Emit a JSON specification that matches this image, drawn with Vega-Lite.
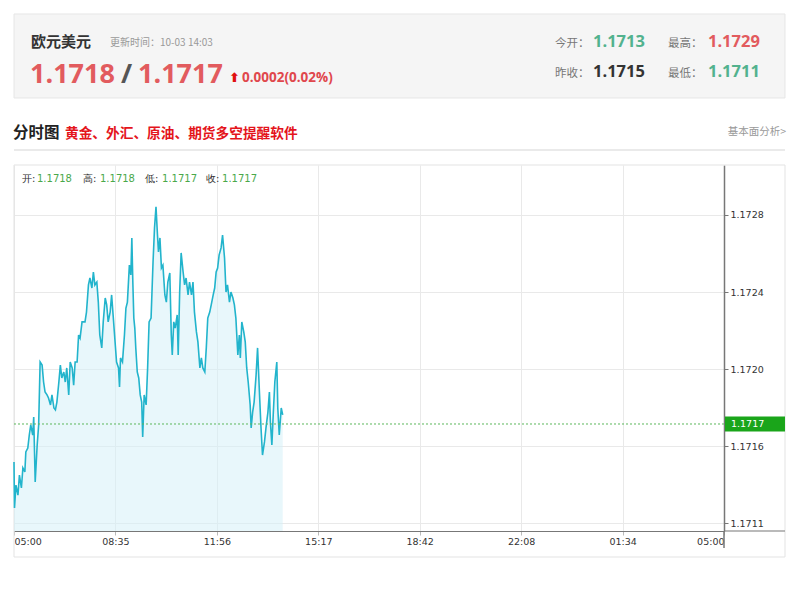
{
  "$schema": "https://vega.github.io/schema/vega-lite/v6.json",
  "autosize": {"type": "none"},
  "width": 710,
  "height": 366,
  "padding": {"left": 14, "top": 165, "right": 76, "bottom": 58},
  "background": "white",
  "config": {"view": {"stroke": null}, "axis": {"labelColor": "#333", "labelFont": "DejaVu Sans", "labelFontSize": 9.5}},
  "datasets": {
    "series": [
      {"t":0,"p":1.171518},{"t":1,"p":1.171279},{"t":4,"p":1.171398},{"t":8,"p":1.171346},{"t":11,"p":1.17145},{"t":15,"p":1.171383},{"t":18,"p":1.171487},{"t":22,"p":1.171466},{"t":24,"p":1.17157},{"t":28,"p":1.17159},{"t":31,"p":1.171658},{"t":34,"p":1.17171},{"t":38,"p":1.171658},{"t":40,"p":1.171751},{"t":43,"p":1.171414},{"t":47,"p":1.171606},{"t":50,"p":1.17171},{"t":53,"p":1.172037},{"t":57,"p":1.172021},{"t":60,"p":1.171933},{"t":63,"p":1.171881},{"t":67,"p":1.171866},{"t":70,"p":1.17185},{"t":74,"p":1.171814},{"t":77,"p":1.171866},{"t":81,"p":1.171798},{"t":84,"p":1.171788},{"t":87,"p":1.171829},{"t":91,"p":1.171933},{"t":94,"p":1.172021},{"t":97,"p":1.171954},{"t":101,"p":1.171985},{"t":104,"p":1.171933},{"t":107,"p":1.172006},{"t":111,"p":1.171866},{"t":114,"p":1.172037},{"t":118,"p":1.172006},{"t":121,"p":1.171917},{"t":124,"p":1.172037},{"t":128,"p":1.172037},{"t":131,"p":1.172177},{"t":134,"p":1.172161},{"t":138,"p":1.172245},{"t":144,"p":1.172245},{"t":147,"p":1.172296},{"t":151,"p":1.172437},{"t":154,"p":1.172473},{"t":158,"p":1.172421},{"t":161,"p":1.172504},{"t":164,"p":1.172437},{"t":168,"p":1.172452},{"t":171,"p":1.172348},{"t":174,"p":1.172177},{"t":178,"p":1.17211},{"t":181,"p":1.172245},{"t":185,"p":1.172369},{"t":188,"p":1.172333},{"t":191,"p":1.172245},{"t":195,"p":1.172296},{"t":198,"p":1.172385},{"t":201,"p":1.172281},{"t":205,"p":1.172141},{"t":208,"p":1.172037},{"t":212,"p":1.172006},{"t":214,"p":1.171907},{"t":216,"p":1.172058},{"t":220,"p":1.172037},{"t":224,"p":1.172177},{"t":227,"p":1.172317},{"t":230,"p":1.172348},{"t":234,"p":1.17254},{"t":237,"p":1.172489},{"t":239,"p":1.172681},{"t":241,"p":1.172452},{"t":243,"p":1.172265},{"t":245,"p":1.172213},{"t":247,"p":1.17211},{"t":250,"p":1.171985},{"t":253,"p":1.171954},{"t":256,"p":1.171866},{"t":259,"p":1.171829},{"t":261,"p":1.171648},{"t":264,"p":1.171866},{"t":268,"p":1.171814},{"t":271,"p":1.172006},{"t":274,"p":1.172245},{"t":278,"p":1.172265},{"t":282,"p":1.172556},{"t":285,"p":1.172733},{"t":288,"p":1.172842},{"t":291,"p":1.172696},{"t":293,"p":1.172608},{"t":296,"p":1.172681},{"t":299,"p":1.172525},{"t":302,"p":1.17254},{"t":306,"p":1.172385},{"t":309,"p":1.172348},{"t":312,"p":1.172452},{"t":316,"p":1.172499},{"t":319,"p":1.172177},{"t":321,"p":1.172073},{"t":324,"p":1.172245},{"t":327,"p":1.172213},{"t":331,"p":1.172281},{"t":333,"p":1.172073},{"t":336,"p":1.1724},{"t":339,"p":1.172603},{"t":343,"p":1.172504},{"t":346,"p":1.172437},{"t":349,"p":1.172473},{"t":353,"p":1.172385},{"t":356,"p":1.172452},{"t":360,"p":1.172385},{"t":363,"p":1.172452},{"t":366,"p":1.172296},{"t":370,"p":1.172193},{"t":373,"p":1.172141},{"t":377,"p":1.172006},{"t":380,"p":1.172058},{"t":383,"p":1.172006},{"t":387,"p":1.171985},{"t":390,"p":1.17211},{"t":393,"p":1.172265},{"t":397,"p":1.172296},{"t":400,"p":1.172333},{"t":404,"p":1.172385},{"t":407,"p":1.172421},{"t":410,"p":1.172504},{"t":413,"p":1.172525},{"t":416,"p":1.172592},{"t":420,"p":1.172629},{"t":423,"p":1.172696},{"t":427,"p":1.172577},{"t":430,"p":1.1724},{"t":433,"p":1.172437},{"t":437,"p":1.172348},{"t":440,"p":1.1724},{"t":444,"p":1.172369},{"t":447,"p":1.172333},{"t":450,"p":1.172265},{"t":454,"p":1.172073},{"t":457,"p":1.172177},{"t":459,"p":1.172058},{"t":462,"p":1.172245},{"t":466,"p":1.172193},{"t":469,"p":1.172141},{"t":472,"p":1.172006},{"t":475,"p":1.171933},{"t":479,"p":1.171814},{"t":481,"p":1.171694},{"t":484,"p":1.171777},{"t":487,"p":1.171829},{"t":491,"p":1.171969},{"t":494,"p":1.17211},{"t":498,"p":1.171866},{"t":501,"p":1.171694},{"t":504,"p":1.171554},{"t":508,"p":1.171622},{"t":511,"p":1.171694},{"t":515,"p":1.171777},{"t":518,"p":1.171881},{"t":520,"p":1.171725},{"t":523,"p":1.171606},{"t":526,"p":1.171777},{"t":529,"p":1.171933},{"t":533,"p":1.172037},{"t":535,"p":1.171798},{"t":538,"p":1.171658},{"t":542,"p":1.171798},{"t":545,"p":1.171762}
    ]
  },
  "layer": [
    {
      "data": {"values": [{}]},
      "mark": {"type": "rect", "fill": "#f5f5f5", "stroke": "#e6e6e6", "strokeWidth": 1},
      "encoding": {"x": {"datum": 0}, "x2": {"datum": 1563.7}, "y": {"datum": 1.17384344}, "y2": {"datum": 1.17340738}}
    },
    {
      "data": {"values": [{}]},
      "mark": {"type": "rect", "filled": false, "stroke": "#e3e3e3", "strokeWidth": 1},
      "encoding": {"x": {"datum": 0}, "x2": {"datum": 1563.7}, "y": {"datum": 1.17305956}, "y2": {"datum": 1.17102459}}
    },
    {
      "data": {"name": "series"},
      "mark": {"type": "area", "color": "#d6f0f8", "opacity": 0.55},
      "encoding": {
        "x": {"field": "t", "type": "quantitative", "title": null,
          "scale": {"domain": [0, 1440], "nice": false, "zero": false},
          "axis": {"values": [0, 205.714, 411.429, 617.143, 822.857, 1028.571, 1234.286, 1440],
            "labelExpr": "['05:00','08:35','11:56','15:17','18:42','22:08','01:34','05:00'][round(datum.value*7/1440)]",
            "labelFlush": true, "grid": true, "gridColor": "#e9e9e9", "domainColor": "#777", "domainWidth": 1.2,
            "tickColor": "#bbb", "tickSize": 4, "labelPadding": 1, "labelFont": "DejaVu Sans", "labelFontSize": 9.5, "labelColor": "#333"}},
        "y": {"field": "p", "type": "quantitative", "title": null,
          "scale": {"domain": [1.17115956, 1.17305956], "nice": false, "zero": false},
          "axis": {"orient": "right", "values": [1.1712, 1.1716, 1.172, 1.1724, 1.1728],
            "labelExpr": "datum.value < 1.1713 ? '1.1711' : format(datum.value, '.4f')",
            "grid": true, "gridColor": "#e9e9e9", "domainColor": "#777", "domainWidth": 1.5,
            "tickColor": "#777", "tickSize": 4, "labelPadding": 2, "labelFont": "DejaVu Sans", "labelFontSize": 9.5, "labelColor": "#333"}},
        "y2": {"datum": 1.17115956}
      }
    },
    {
      "data": {"name": "series"},
      "mark": {"type": "line", "color": "#22b4cc", "strokeWidth": 1.6},
      "encoding": {"x": {"field": "t", "type": "quantitative"}, "y": {"field": "p", "type": "quantitative"}}
    },
    {
      "data": {"values": [{}]},
      "mark": {"type": "rule", "color": "#5cb85c", "strokeDash": [2, 2], "strokeWidth": 1},
      "encoding": {"x": {"datum": 0}, "x2": {"datum": 1440}, "y": {"datum": 1.17171503}}
    },
    {
      "data": {"values": [{}]},
      "mark": {"type": "rule", "color": "#777", "strokeWidth": 1.2},
      "encoding": {"x": {"datum": 1440}, "x2": {"datum": 1563.7}, "y": {"datum": 1.17115956}}
    },
    {
      "data": {"values": [{}]},
      "mark": {"type": "rule", "color": "#777", "strokeWidth": 1.5},
      "encoding": {"x": {"datum": 1440}, "y": {"datum": 1.17115956}, "y2": {"datum": 1.17107131}}
    },
    {
      "data": {"values": [{}]},
      "mark": {"type": "rect", "fill": "#1aa51a"},
      "encoding": {"x": {"datum": 1442}, "x2": {"datum": 1563.7}, "y": {"datum": 1.17175396}, "y2": {"datum": 1.17167609}}
    },
    {
      "data": {"values": [{}]},
      "mark": {"type": "text", "align": "left", "baseline": "middle", "font": "DejaVu Sans", "fontSize": 9.5, "color": "white"},
      "encoding": {"x": {"datum": 1454.2}, "y": {"datum": 1.17171503}, "text": {"value": "1.1717"}}
    },
    {
      "data": {"values": [{}]},
      "mark": {"type": "rule", "color": "#e3e3e3", "strokeWidth": 1.5},
      "encoding": {"x": {"datum": 0}, "x2": {"datum": 1563.7}, "y": {"datum": 1.17313743}}
    },
    {
      "data": {"values": [{}]},
      "mark": {"type": "text", "align": "left", "baseline": "alphabetic", "font": "Noto Sans CJK SC", "fontSize": 15, "fontWeight": "bold", "color": "#333"},
      "encoding": {"x": {"datum": 34.5}, "y": {"datum": 1.17367213}, "text": {"value": "欧元美元"}}
    },
    {
      "data": {"values": [{}]},
      "mark": {"type": "text", "align": "left", "baseline": "alphabetic", "font": "Noto Sans CJK SC", "fontSize": 10, "color": "#999"},
      "encoding": {"x": {"datum": 194.7}, "y": {"datum": 1.17367473}, "text": {"value": "更新时间：10-03 14:03"}}
    },
    {
      "data": {"values": [{}]},
      "mark": {"type": "text", "align": "left", "baseline": "alphabetic", "font": "Open Sans", "fontSize": 27, "fontWeight": "bold", "color": "#e25b5e"},
      "encoding": {"x": {"datum": 32.5}, "y": {"datum": 1.17348525}, "text": {"value": "1.1718"}}
    },
    {
      "data": {"values": [{}]},
      "mark": {"type": "text", "align": "left", "baseline": "alphabetic", "font": "Open Sans", "fontSize": 27, "fontWeight": "bold", "color": "#555"},
      "encoding": {"x": {"datum": 217.0}, "y": {"datum": 1.17348525}, "text": {"value": "/"}}
    },
    {
      "data": {"values": [{}]},
      "mark": {"type": "text", "align": "left", "baseline": "alphabetic", "font": "Open Sans", "fontSize": 27, "fontWeight": "bold", "color": "#e25b5e"},
      "encoding": {"x": {"datum": 251.5}, "y": {"datum": 1.17348525}, "text": {"value": "1.1717"}}
    },
    {
      "data": {"values": [{}]},
      "mark": {"type": "text", "align": "left", "baseline": "alphabetic", "font": "DejaVu Sans", "fontSize": 13, "fontWeight": "bold", "color": "#e01010"},
      "encoding": {"x": {"datum": 436.1}, "y": {"datum": 1.17349043}, "text": {"value": "⬆"}}
    },
    {
      "data": {"values": [{}]},
      "mark": {"type": "text", "align": "left", "baseline": "alphabetic", "font": "Open Sans", "fontSize": 13.5, "fontWeight": "bold", "color": "#e0474c"},
      "encoding": {"x": {"datum": 462.4}, "y": {"datum": 1.17349043}, "text": {"value": "0.0002(0.02%)"}}
    },
    {
      "data": {"values": [{}]},
      "mark": {"type": "text", "align": "left", "baseline": "alphabetic", "font": "Noto Sans CJK SC", "fontSize": 11.5, "color": "#777"},
      "encoding": {"x": {"datum": 1097.2}, "y": {"datum": 1.17366954}, "text": {"value": "今开："}}
    },
    {
      "data": {"values": [{}]},
      "mark": {"type": "text", "align": "left", "baseline": "alphabetic", "font": "Open Sans", "fontSize": 16.5, "fontWeight": "bold", "color": "#52b28e"},
      "encoding": {"x": {"datum": 1174.3}, "y": {"datum": 1.17366954}, "text": {"value": "1.1713"}}
    },
    {
      "data": {"values": [{}]},
      "mark": {"type": "text", "align": "left", "baseline": "alphabetic", "font": "Noto Sans CJK SC", "fontSize": 11.5, "color": "#777"},
      "encoding": {"x": {"datum": 1326.4}, "y": {"datum": 1.17366954}, "text": {"value": "最高："}}
    },
    {
      "data": {"values": [{}]},
      "mark": {"type": "text", "align": "left", "baseline": "alphabetic", "font": "Open Sans", "fontSize": 16.5, "fontWeight": "bold", "color": "#e25b5e"},
      "encoding": {"x": {"datum": 1407.5}, "y": {"datum": 1.17366954}, "text": {"value": "1.1729"}}
    },
    {
      "data": {"values": [{}]},
      "mark": {"type": "text", "align": "left", "baseline": "alphabetic", "font": "Noto Sans CJK SC", "fontSize": 11.5, "color": "#777"},
      "encoding": {"x": {"datum": 1097.2}, "y": {"datum": 1.1735138}, "text": {"value": "昨收："}}
    },
    {
      "data": {"values": [{}]},
      "mark": {"type": "text", "align": "left", "baseline": "alphabetic", "font": "Open Sans", "fontSize": 16.5, "fontWeight": "bold", "color": "#333"},
      "encoding": {"x": {"datum": 1174.3}, "y": {"datum": 1.1735138}, "text": {"value": "1.1715"}}
    },
    {
      "data": {"values": [{}]},
      "mark": {"type": "text", "align": "left", "baseline": "alphabetic", "font": "Noto Sans CJK SC", "fontSize": 11.5, "color": "#777"},
      "encoding": {"x": {"datum": 1326.4}, "y": {"datum": 1.1735138}, "text": {"value": "最低："}}
    },
    {
      "data": {"values": [{}]},
      "mark": {"type": "text", "align": "left", "baseline": "alphabetic", "font": "Open Sans", "fontSize": 16.5, "fontWeight": "bold", "color": "#52b28e"},
      "encoding": {"x": {"datum": 1407.5}, "y": {"datum": 1.1735138}, "text": {"value": "1.1711"}}
    },
    {
      "data": {"values": [{}]},
      "mark": {"type": "text", "align": "left", "baseline": "alphabetic", "font": "Noto Sans CJK SC", "fontSize": 15.5, "fontWeight": "bold", "color": "#222"},
      "encoding": {"x": {"datum": -2.0}, "y": {"datum": 1.17319973}, "text": {"value": "分时图"}}
    },
    {
      "data": {"values": [{}]},
      "mark": {"type": "text", "align": "left", "baseline": "alphabetic", "font": "Noto Sans CJK SC", "fontSize": 13.7, "fontWeight": "bold", "color": "#e4141b"},
      "encoding": {"x": {"datum": 103.4}, "y": {"datum": 1.17319973}, "text": {"value": "黄金、外汇、原油、期货多空提醒软件"}}
    },
    {
      "data": {"values": [{}]},
      "mark": {"type": "text", "align": "right", "baseline": "alphabetic", "font": "Noto Sans CJK SC", "fontSize": 10.5, "color": "#999"},
      "encoding": {"x": {"datum": 1565.7}, "y": {"datum": 1.1732153}, "text": {"value": "基本面分析>"}}
    },
    {
      "data": {"values": [{}]},
      "mark": {"type": "text", "align": "left", "baseline": "alphabetic", "font": "DejaVu Sans", "fontSize": 10, "color": "#333"},
      "encoding": {"x": {"datum": 16.2}, "y": {"datum": 1.17296872}, "text": {"value": "开:"}}
    },
    {
      "data": {"values": [{}]},
      "mark": {"type": "text", "align": "left", "baseline": "alphabetic", "font": "DejaVu Sans", "fontSize": 10, "color": "#4aa84a"},
      "encoding": {"x": {"datum": 46.6}, "y": {"datum": 1.17296872}, "text": {"value": "1.1718"}}
    },
    {
      "data": {"values": [{}]},
      "mark": {"type": "text", "align": "left", "baseline": "alphabetic", "font": "DejaVu Sans", "fontSize": 10, "color": "#333"},
      "encoding": {"x": {"datum": 139.9}, "y": {"datum": 1.17296872}, "text": {"value": "高:"}}
    },
    {
      "data": {"values": [{}]},
      "mark": {"type": "text", "align": "left", "baseline": "alphabetic", "font": "DejaVu Sans", "fontSize": 10, "color": "#4aa84a"},
      "encoding": {"x": {"datum": 174.4}, "y": {"datum": 1.17296872}, "text": {"value": "1.1718"}}
    },
    {
      "data": {"values": [{}]},
      "mark": {"type": "text", "align": "left", "baseline": "alphabetic", "font": "DejaVu Sans", "fontSize": 10, "color": "#333"},
      "encoding": {"x": {"datum": 265.7}, "y": {"datum": 1.17296872}, "text": {"value": "低:"}}
    },
    {
      "data": {"values": [{}]},
      "mark": {"type": "text", "align": "left", "baseline": "alphabetic", "font": "DejaVu Sans", "fontSize": 10, "color": "#4aa84a"},
      "encoding": {"x": {"datum": 300.2}, "y": {"datum": 1.17296872}, "text": {"value": "1.1717"}}
    },
    {
      "data": {"values": [{}]},
      "mark": {"type": "text", "align": "left", "baseline": "alphabetic", "font": "DejaVu Sans", "fontSize": 10, "color": "#333"},
      "encoding": {"x": {"datum": 389.4}, "y": {"datum": 1.17296872}, "text": {"value": "收:"}}
    },
    {
      "data": {"values": [{}]},
      "mark": {"type": "text", "align": "left", "baseline": "alphabetic", "font": "DejaVu Sans", "fontSize": 10, "color": "#4aa84a"},
      "encoding": {"x": {"datum": 421.9}, "y": {"datum": 1.17296872}, "text": {"value": "1.1717"}}
    }
  ]
}
